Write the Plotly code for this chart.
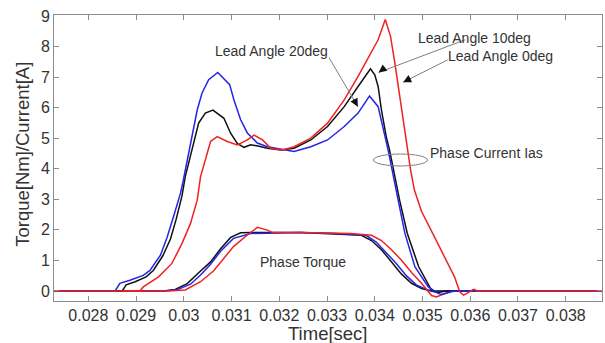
import plotly.graph_objects as go

# ---------------- data ----------------
# Phase current, lead angle 20deg (blue)
cur20_t = [0.02720, 0.02856, 0.02866, 0.02887, 0.02915, 0.02929, 0.02951, 0.02965, 0.02978, 0.02993,
           0.02999, 0.03003, 0.03017, 0.03028, 0.03038, 0.03052, 0.03071, 0.03083, 0.03096, 0.03105,
           0.03119, 0.03133, 0.03154, 0.03175, 0.03210, 0.03231, 0.03266, 0.03301, 0.03336, 0.03365,
           0.03386, 0.03389, 0.03407, 0.03417, 0.03428, 0.03449, 0.03463, 0.03484, 0.03512, 0.03533,
           0.03540, 0.03555, 0.03567, 0.03880]
cur20_v = [0, 0, 0.25, 0.35, 0.51, 0.67, 1.17, 1.76, 2.41, 3.20,
           3.63, 3.96, 5.05, 5.92, 6.47, 6.91, 7.15, 6.95, 6.75, 6.25,
           5.60, 5.17, 4.84, 4.72, 4.61, 4.56, 4.72, 4.94, 5.38, 5.82,
           6.31, 6.38, 6.03, 5.38, 4.61, 2.97, 1.89, 0.79, 0.13, -0.08,
           -0.12, -0.05, 0, 0]

# Phase current, lead angle 10deg (black)
cur10_t = [0.02720, 0.02871, 0.02879, 0.02898, 0.02921, 0.02936, 0.02956, 0.02972, 0.02984, 0.02996,
           0.03003, 0.03021, 0.03031, 0.03045, 0.03061, 0.03084, 0.03098, 0.03112, 0.03126, 0.03140,
           0.03153, 0.03175, 0.03203, 0.03231, 0.03266, 0.03301, 0.03336, 0.03365, 0.03386, 0.03391,
           0.03400, 0.03407, 0.03414, 0.03424, 0.03431, 0.03452, 0.03468, 0.03492, 0.03519, 0.03532,
           0.03546, 0.03880]
cur10_v = [0, 0, 0.20, 0.30, 0.46, 0.67, 1.15, 1.70, 2.35, 3.10,
           3.74, 4.83, 5.49, 5.82, 5.92, 5.65, 5.16, 4.83, 4.70, 4.78,
           4.75, 4.67, 4.61, 4.67, 4.94, 5.38, 6.03, 6.69, 7.18, 7.27,
           7.07, 6.69, 5.92, 5.05, 4.61, 2.97, 1.89, 0.79, 0.02, -0.05,
           0, 0]

# Phase current, lead angle 0deg (red)
cur0_t = [0.02720, 0.02908, 0.02915, 0.02947, 0.02975, 0.02996, 0.03014, 0.03028, 0.03035, 0.03045,
          0.03056, 0.03070, 0.03091, 0.03112, 0.03133, 0.03147, 0.03165, 0.03182, 0.03207, 0.03231,
          0.03266, 0.03301, 0.03336, 0.03365, 0.03386, 0.03407, 0.03422, 0.03428, 0.03433, 0.03442,
          0.03450, 0.03459, 0.03466, 0.03475, 0.03483, 0.03498, 0.03525, 0.03546, 0.03567, 0.03578,
          0.03586, 0.03593, 0.03600, 0.03607, 0.03616, 0.03880]
cur0_v = [0, 0, 0.13, 0.46, 0.90, 1.55, 2.21, 2.97, 3.74, 4.29,
          4.89, 5.05, 4.89, 4.78, 4.94, 5.10, 4.94, 4.67, 4.61, 4.72,
          5.00, 5.49, 6.25, 7.02, 7.62, 8.22, 8.88, 8.60, 8.33, 7.46,
          6.58, 5.60, 4.83, 3.96, 3.30, 2.60, 1.77, 1.11, 0.46, -0.03,
          -0.14, -0.08, 0, 0.05, 0, 0]

# Phase torque curves
trq10_t = [0.02720, 0.02957, 0.02982, 0.03007, 0.03035, 0.03056, 0.03077, 0.03098, 0.03119, 0.03140,
           0.03245, 0.03308, 0.03350, 0.03372, 0.03393, 0.03414, 0.03435, 0.03456, 0.03477, 0.03498,
           0.03519, 0.03880]
trq10_v = [0, 0, 0.05, 0.24, 0.65, 0.95, 1.38, 1.75, 1.90, 1.91,
           1.91, 1.88, 1.84, 1.82, 1.65, 1.35, 0.95, 0.55, 0.25, 0.08,
           0, 0]

trq20_t = [0.02720, 0.02961, 0.02988, 0.03014, 0.03035, 0.03056, 0.03077, 0.03104, 0.03140, 0.03245,
           0.03308, 0.03350, 0.03382, 0.03403, 0.03424, 0.03445, 0.03466, 0.03487, 0.03508, 0.03529,
           0.03550, 0.03880]
trq20_v = [0, 0, 0.05, 0.22, 0.52, 0.87, 1.30, 1.72, 1.88, 1.91,
           1.89, 1.86, 1.82, 1.60, 1.25, 0.90, 0.50, 0.20, 0.05, -0.05,
           0, 0]

trq0_t = [0.02720, 0.02967, 0.03003, 0.03035, 0.03062, 0.03077, 0.03104, 0.03133, 0.03154, 0.03175,
          0.03186, 0.03245, 0.03308, 0.03350, 0.03393, 0.03414, 0.03435, 0.03456, 0.03477, 0.03498,
          0.03519, 0.03529, 0.03544, 0.03561, 0.03880]
trq0_v = [0, 0, 0.03, 0.30, 0.65, 0.95, 1.45, 1.83, 2.08, 1.99,
          1.91, 1.91, 1.90, 1.88, 1.82, 1.65, 1.35, 1.00, 0.60, 0.25,
          -0.15, -0.20, -0.10, 0, 0]

x_tickvals = [0.028, 0.029, 0.030, 0.031, 0.032, 0.033, 0.034, 0.035, 0.036, 0.037, 0.038]
x_ticktext = ["0.028", "0.029", "0.03", "0.031", "0.032", "0.033", "0.034", "0.035", "0.036", "0.037", "0.038"]
y_tickvals = [0, 1, 2, 3, 4, 5, 6, 7, 8, 9]

BLUE = "#2424e6"
BLACK = "#111111"
RED = "#ee2222"
LW = 1.5

fig = go.Figure()
for t, v, c in [(trq10_t, trq10_v, BLACK), (trq20_t, trq20_v, BLUE), (trq0_t, trq0_v, RED),
                (cur10_t, cur10_v, BLACK), (cur20_t, cur20_v, BLUE), (cur0_t, cur0_v, RED)]:
    fig.add_trace(go.Scatter(x=t, y=v, mode="lines", line=dict(color=c, width=LW),
                             showlegend=False, hoverinfo="skip"))

FONT = "Liberation Sans, Arial, sans-serif"
TXT = "#333333"

ann = []
def label(text, x, y):
    ann.append(dict(x=x, y=y, xref="x", yref="y", text=text, showarrow=False,
                    font=dict(family=FONT, size=14, color=TXT), xanchor="center", yanchor="middle"))

label("Lead Angle 20deg", 0.031832, 7.84)
label("Lead Angle 10deg", 0.036084, 8.28)
label("Lead Angle 0deg", 0.036642, 7.70)
label("Phase Current Ias", 0.036341, 4.50)
label("Phase Torque", 0.032505, 0.95)

# axis titles placed as paper annotations
ann.append(dict(x=0.5, y=-0.115, xref="paper", yref="paper", text="Time[sec]", showarrow=False,
                font=dict(family=FONT, size=18.5, color=TXT), xanchor="center", yanchor="middle"))
ann.append(dict(x=-0.057, y=0.514, xref="paper", yref="paper", text="Torque[Nm]/Current[A]",
                showarrow=False, textangle=-90,
                font=dict(family=FONT, size=18.5, color=TXT), xanchor="center", yanchor="middle"))

# arrows: (tail_x, tail_y, head_x, head_y, head offset px)
arrows = [(0.033042, 7.63, 0.033646, 6.03, -5, -9),
          (0.035895, 8.22, 0.034080, 7.15, 8, -6),
          (0.035526, 7.56, 0.034594, 6.83, 9, -4.5)]
shapes = []
for tx, ty, hx, hy, ox, oy in arrows:
    shapes.append(dict(type="line", xref="x", yref="y", x0=tx, y0=ty, x1=hx, y1=hy,
                       line=dict(color="#808080", width=1)))
    ann.append(dict(x=hx, y=hy, xref="x", yref="y", ax=ox, ay=oy, text="", showarrow=True,
                    arrowhead=2, arrowsize=1.6, arrowwidth=1, arrowcolor="#111111"))

shapes.append(dict(type="circle", xref="x", yref="y", x0=0.033968, x1=0.035105, y0=4.09, y1=4.48,
                   line=dict(color="#808080", width=1)))

axis_common = dict(showgrid=False, zeroline=False, showline=True, linecolor="#8c8c8c", linewidth=1,
                   mirror="ticks", ticks="inside", ticklen=5, tickcolor="#8c8c8c", tickwidth=1,
                   automargin=False,
                   tickfont=dict(family=FONT, size=16, color=TXT))

fig.update_layout(
    width=605, height=343,
    margin=dict(l=54, r=3, t=15, b=42),
    paper_bgcolor="white", plot_bgcolor="white",
    xaxis=dict(range=[0.02728, 0.03876], tickvals=x_tickvals, ticktext=x_ticktext, **axis_common),
    yaxis=dict(range=[-0.33, 9.03], tickvals=y_tickvals, **axis_common),
    annotations=ann, shapes=shapes,
)

fig.write_html("out.html")
